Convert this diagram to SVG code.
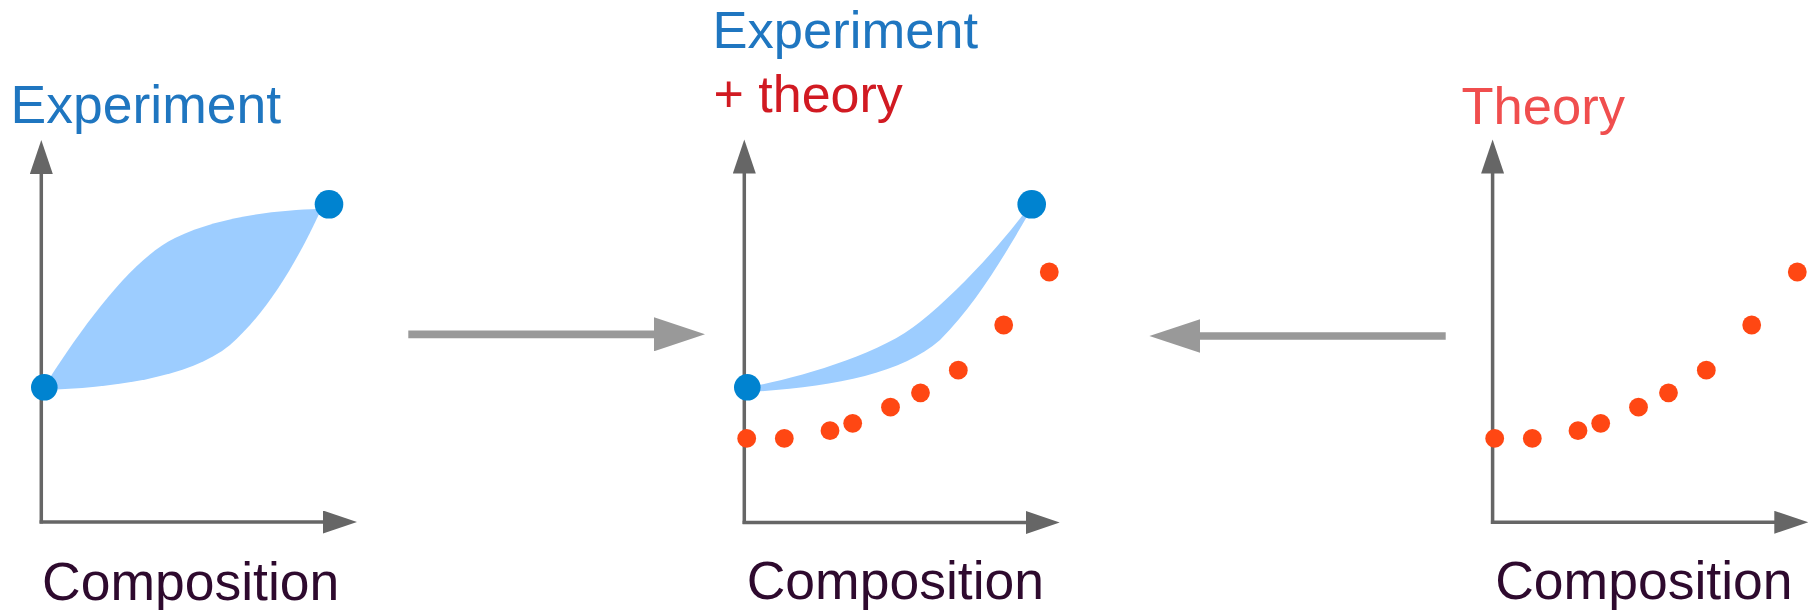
<svg xmlns="http://www.w3.org/2000/svg" xmlns:xlink="http://www.w3.org/1999/xlink" width="1820" height="610" viewBox="0 0 1820 610">
<style>
  text { font-family: "Liberation Sans", Arial, sans-serif; }
  .axis { stroke: #666666; stroke-width: 3.5; fill: none; marker-end: url(#axhead); }
  .band { fill: #9dcdff; stroke: none; }
  .bdot { fill: #0083d0; }
  .rdot { fill: #ff4713; }
  .exp { fill: #1f76c0; }
  .theo { fill: #d11a22; }
  .theory { fill: #f04e4e; }
  .comp { fill: #2e0a2e; font-size: 53.5px; }
  .flow { stroke: #999999; stroke-width: 7.7; fill: none; marker-end: url(#flowhead); }
</style>
<defs>
  <marker id="axhead" markerUnits="userSpaceOnUse" markerWidth="35" markerHeight="23" viewBox="0 0 35 23" refX="1" refY="11.5" orient="auto">
    <path d="M0,0 L34,11.5 L0,23 Z" fill="#666666"/>
  </marker>
  <marker id="flowhead" markerUnits="userSpaceOnUse" markerWidth="52" markerHeight="34" viewBox="0 0 52 34" refX="1" refY="17" orient="auto">
    <path d="M0,0 L51,17 L0,34 Z" fill="#999999"/>
  </marker>
  <g id="theoryDots">
    <circle class="rdot" cx="746.7" cy="438.4" r="9.4"/>
    <circle class="rdot" cx="784.3" cy="438.4" r="9.4"/>
    <circle class="rdot" cx="830" cy="430.7" r="9.4"/>
    <circle class="rdot" cx="852.7" cy="423.3" r="9.4"/>
    <circle class="rdot" cx="890.5" cy="407.2" r="9.4"/>
    <circle class="rdot" cx="920.5" cy="392.8" r="9.4"/>
    <circle class="rdot" cx="958.3" cy="370.2" r="9.4"/>
    <circle class="rdot" cx="1003.7" cy="325" r="9.4"/>
    <circle class="rdot" cx="1049.3" cy="272" r="9.4"/>
  </g>
</defs>
<rect width="1820" height="610" fill="#ffffff"/>

<g id="panel-experiment">
  <text class="exp" x="10.5" y="123.3" font-size="53.5">Experiment</text>
  <path class="axis" d="M41.3,523.5 L41.3,173"/>
  <path class="axis" d="M39.6,522 L324,522"/>
  <path class="band" d="M44,387 C80,330 130,260 175,238 C220,216 280,210 318,209 L320,212 C300,255 270,310 230,345 C190,378 110,388 44,390 Z"/>
  <circle class="bdot" cx="329" cy="204.3" r="14.3"/>
  <circle class="bdot" cx="44.3" cy="387.3" r="13.3"/>
  <text class="comp" x="42" y="600">Composition</text>
</g>

<g id="panel-combined">
  <text class="exp" x="712.6" y="48.3" font-size="52.5">Experiment</text>
  <text class="theo" x="713.5" y="112.3" font-size="52">+ theory</text>
  <path class="axis" d="M744.3,524 L744.3,172.5"/>
  <path class="axis" d="M742.6,522.5 L1026.7,522.5"/>
  <use xlink:href="#theoryDots" href="#theoryDots"/>
  <path class="band" d="M750,387 C800,377 880,355 920,322 C960,290 1000,245 1025,212 L1028,215 C1010,245 980,300 940,340 C900,375 830,387 750,392 Z"/>
  <circle class="bdot" cx="1031.7" cy="204.3" r="14.3"/>
  <circle class="bdot" cx="747.3" cy="387.3" r="13.3"/>
  <text class="comp" x="746.7" y="599">Composition</text>
</g>

<g id="panel-theory">
  <text class="theory" x="1461.5" y="123.5" font-size="52.5">Theory</text>
  <path class="axis" d="M1492.6,524 L1492.6,172.5"/>
  <path class="axis" d="M1490.9,522.3 L1775.3,522.3"/>
  <use xlink:href="#theoryDots" href="#theoryDots" transform="translate(748,0)"/>
  <text class="comp" x="1495.2" y="598.5">Composition</text>
</g>

<g id="connectors">
  <path class="flow" d="M408.3,334.3 L655,334.3"/>
  <path class="flow" d="M1445.7,336 L1199.4,336"/>
</g>
</svg>
